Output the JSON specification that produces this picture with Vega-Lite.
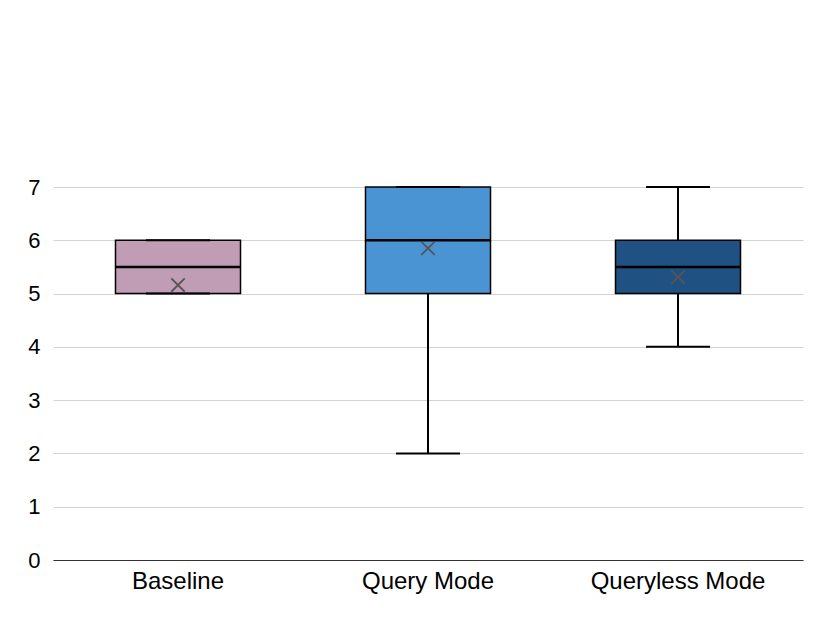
{
  "$schema": "https://vega.github.io/schema/vega-lite/v6.json",
  "width": 750,
  "height": 373,
  "autosize": {"type": "none"},
  "padding": {"left": 53, "top": 187, "right": 27, "bottom": 63},
  "background": "white",
  "config": {"view": {"stroke": null}, "font": "Liberation Sans"},
  "data": {
    "values": [
      {"group": "Baseline", "min": 5, "q1": 5, "median": 5.5, "q3": 6, "max": 6, "mean": 5.16},
      {"group": "Query Mode", "min": 2, "q1": 5, "median": 6, "q3": 7, "max": 7, "mean": 5.85},
      {"group": "Queryless Mode", "min": 4, "q1": 5, "median": 5.5, "q3": 6, "max": 7, "mean": 5.31}
    ]
  },
  "encoding": {
    "x": {
      "field": "group",
      "type": "nominal",
      "sort": ["Baseline", "Query Mode", "Queryless Mode"],
      "scale": {"paddingInner": 0, "paddingOuter": 0},
      "axis": {
        "title": null,
        "labelAngle": 0,
        "labelFontSize": 24,
        "labelColor": "#000",
        "labelPadding": 9,
        "ticks": false,
        "domainColor": "#333",
        "domainWidth": 1
      }
    }
  },
  "layer": [
    {
      "mark": {"type": "rule", "color": "#000", "strokeWidth": 2},
      "encoding": {
        "y": {
          "field": "min",
          "type": "quantitative",
          "scale": {"domain": [0, 7], "nice": false},
          "axis": {
            "title": null,
            "values": [0, 1, 2, 3, 4, 5, 6, 7],
            "format": "d",
            "domain": false,
            "ticks": false,
            "labelFontSize": 22,
            "labelColor": "#000",
            "labelPadding": 13,
            "gridColor": "#d3d3d3",
            "gridWidth": 1
          }
        },
        "y2": {"field": "max"}
      }
    },
    {
      "mark": {"type": "bar", "size": 125, "stroke": "#000", "strokeWidth": 1.5},
      "encoding": {
        "y": {"field": "q1", "type": "quantitative"},
        "y2": {"field": "q3"},
        "color": {
          "field": "group",
          "type": "nominal",
          "scale": {"domain": ["Baseline", "Query Mode", "Queryless Mode"], "range": ["#C09DB5", "#4A94D4", "#1F5183"]},
          "legend": null
        }
      }
    },
    {
      "mark": {"type": "tick", "color": "#000", "size": 125, "thickness": 2.5, "opacity": 1},
      "encoding": {"y": {"field": "median", "type": "quantitative"}}
    },
    {
      "mark": {"type": "tick", "color": "#000", "size": 64, "thickness": 2, "opacity": 1},
      "encoding": {"y": {"field": "min", "type": "quantitative"}}
    },
    {
      "mark": {"type": "tick", "color": "#000", "size": 64, "thickness": 2, "opacity": 1},
      "encoding": {"y": {"field": "max", "type": "quantitative"}}
    },
    {
      "mark": {"type": "point", "shape": "M-1,-1L1,1M-1,1L1,-1", "filled": false, "stroke": "#555", "strokeWidth": 1.8, "size": 180, "opacity": 1},
      "encoding": {"y": {"field": "mean", "type": "quantitative"}}
    }
  ]
}
